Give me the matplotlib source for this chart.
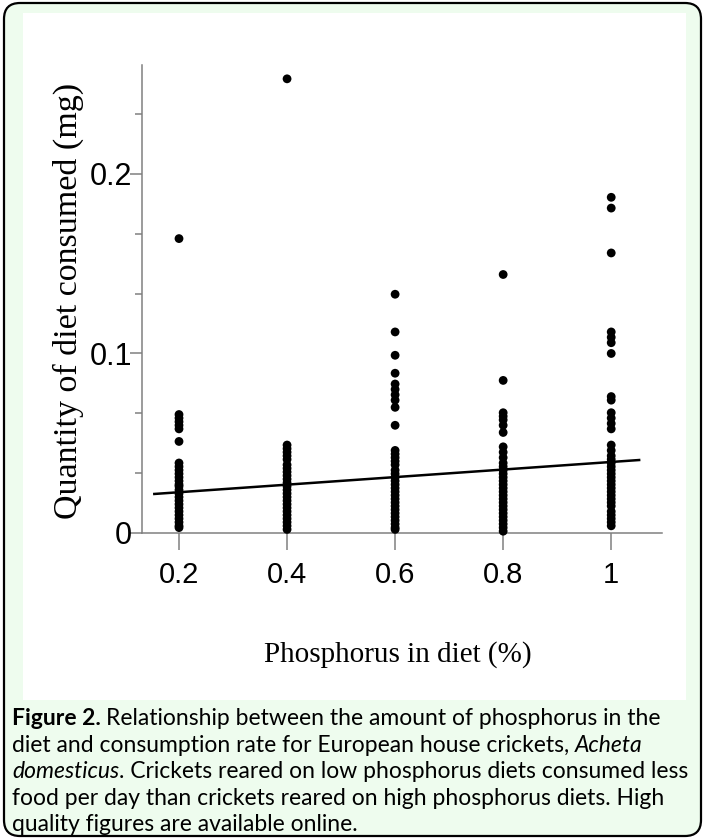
import numpy as np
import matplotlib
matplotlib.use("Agg")
import matplotlib.pyplot as plt
from matplotlib.patches import FancyBboxPatch, Rectangle
from matplotlib.text import Annotation
from matplotlib.ticker import MultipleLocator

# phosphorus in diet (%)
levels = [0.2, 0.4, 0.6, 0.8, 1.0]

# quantity of diet consumed (mg) for each level
cons_02 = [0.164, 0.066, 0.064, 0.062, 0.060, 0.058, 0.051, 0.039, 0.037, 0.035,
           0.033, 0.031, 0.029, 0.027, 0.026, 0.024, 0.022, 0.020, 0.018, 0.016,
           0.014, 0.012, 0.010, 0.008, 0.006, 0.004, 0.003]
cons_04 = [0.253, 0.049, 0.047, 0.045, 0.043, 0.041, 0.038, 0.036, 0.034, 0.032,
           0.030, 0.028, 0.026, 0.024, 0.022, 0.020, 0.018, 0.016, 0.014, 0.012,
           0.010, 0.008, 0.006, 0.004, 0.002]
cons_06 = [0.133, 0.112, 0.099, 0.089, 0.083, 0.080, 0.077, 0.074, 0.070, 0.060,
           0.046, 0.044, 0.042, 0.040, 0.038, 0.035, 0.033, 0.031, 0.029, 0.027,
           0.025, 0.023, 0.021, 0.019, 0.017, 0.015, 0.013, 0.011, 0.009, 0.007,
           0.005, 0.003, 0.002]
cons_08 = [0.144, 0.085, 0.067, 0.065, 0.063, 0.060, 0.056, 0.048, 0.045, 0.042,
           0.039, 0.037, 0.035, 0.033, 0.031, 0.029, 0.027, 0.025, 0.023, 0.021,
           0.019, 0.017, 0.015, 0.013, 0.011, 0.009, 0.007, 0.005, 0.003, 0.001]
cons_10 = [0.187, 0.181, 0.156, 0.112, 0.109, 0.106, 0.100, 0.076, 0.074, 0.067,
           0.064, 0.061, 0.058, 0.049, 0.046, 0.043, 0.041, 0.039, 0.037, 0.035,
           0.033, 0.031, 0.029, 0.027, 0.025, 0.023, 0.021, 0.019, 0.017, 0.015,
           0.012, 0.010, 0.008, 0.006, 0.004]
consumed = [cons_02, cons_04, cons_06, cons_08, cons_10]

# regression line ends
fit_x = [0.152, 1.054]
fit_y = [0.0217, 0.0407]

xticks = [0.2, 0.4, 0.6, 0.8, 1.0]
xticklabels = ["0.2", "0.4", "0.6", "0.8", "1"]
yticks = [0, 0.1, 0.2]
yticklabels = ["0", "0.1", "0.2"]

xlabel = "Phosphorus in diet (%)"
ylabel = "Quantity of diet consumed (mg)"

caption = [
    [("Figure 2.", "bold", "normal"),
     ("Relationship between the amount of phosphorus in the", "normal", "normal")],
    [("diet and consumption rate for European house crickets,", "normal", "normal"),
     ("Acheta", "normal", "italic")],
    [("domesticus", "normal", "italic"),
     (". Crickets reared on low phosphorus diets consumed less", "normal", "normal")],
    [("food per day than crickets reared on high phosphorus diets. High", "normal", "normal")],
    [("quality figures are available online.", "normal", "normal")],
]

W, H = 705, 840
green = "#eefcee"
fig = plt.figure(figsize=(W / 100, H / 100), dpi=100)

# outer rounded frame and white panel behind the chart
frame = FancyBboxPatch((4 / 100, 4 / 100), 697 / 100, 833 / 100,
                       boxstyle="round,pad=0,rounding_size=0.16",
                       transform=fig.dpi_scale_trans, facecolor=green,
                       edgecolor="black", linewidth=1.6, zorder=-3)
fig.add_artist(frame)
panel = Rectangle((23 / 100, (H - 700) / 100), 663 / 100, 687 / 100,
                  transform=fig.dpi_scale_trans, facecolor="white",
                  edgecolor="none", zorder=-2)
fig.add_artist(panel)

ax = fig.add_axes([142 / W, (H - 533) / H, (662 - 142) / W, (533 - 65) / H])
ax.patch.set_visible(False)

for lvl, vals in zip(levels, consumed):
    ax.scatter([lvl] * len(vals), vals, s=40, c="black", edgecolors="none",
               clip_on=False, zorder=3)
ax.plot(fit_x, fit_y, color="black", lw=1.8, zorder=4, solid_capstyle="butt")

ax.set_xlim(0.1315, 1.094)
ax.set_ylim(0, 0.2607)
for s in ["top", "right"]:
    ax.spines[s].set_visible(False)
for s in ["left", "bottom"]:
    ax.spines[s].set_color("#808080")
    ax.spines[s].set_linewidth(1.1)

ax.set_xticks(xticks)
ax.set_xticklabels(xticklabels, fontfamily="Liberation Sans", fontsize=21)
ax.set_yticks(yticks)
ax.set_yticklabels(yticklabels, fontfamily="Liberation Sans", fontsize=22)
ax.yaxis.set_minor_locator(MultipleLocator(1 / 30))
ax.tick_params(axis="x", direction="out", length=12, width=1.1,
               color="#808080", pad=8)
ax.tick_params(axis="y", which="major", direction="out", length=9, width=1.1,
               color="#808080", pad=-2)
ax.tick_params(axis="y", which="minor", direction="out", length=5, width=1.1,
               color="#808080")

fig.text(398 / W, 1 - 655 / H, xlabel, fontfamily="Liberation Serif",
         fontsize=21, ha="center", va="center")
fig.text(68 / W, 1 - 301 / H, ylabel, fontfamily="Liberation Serif",
         fontsize=24.5, rotation=90, ha="center", va="center")

# caption, pieces of mixed style laid end to end
line_tops = [703, 730, 756, 783, 809]
for top, pieces in zip(line_tops, caption):
    prev = None
    for txt, weight, style in pieces:
        kw = dict(fontfamily="Lato", fontsize=16.5, fontweight=weight,
                  fontstyle=style, va="bottom", ha="left", color="black")
        if prev is None:
            prev = fig.text(12 / W, 1 - (top + 26) / H, txt, **kw)
        else:
            gap = 0 if txt.startswith(".") else 5
            prev = fig.add_artist(Annotation(txt, xy=(1, 0), xycoords=prev,
                                             xytext=(gap, 0),
                                             textcoords="offset pixels", **kw))

fig.savefig("out.png", dpi=100)
